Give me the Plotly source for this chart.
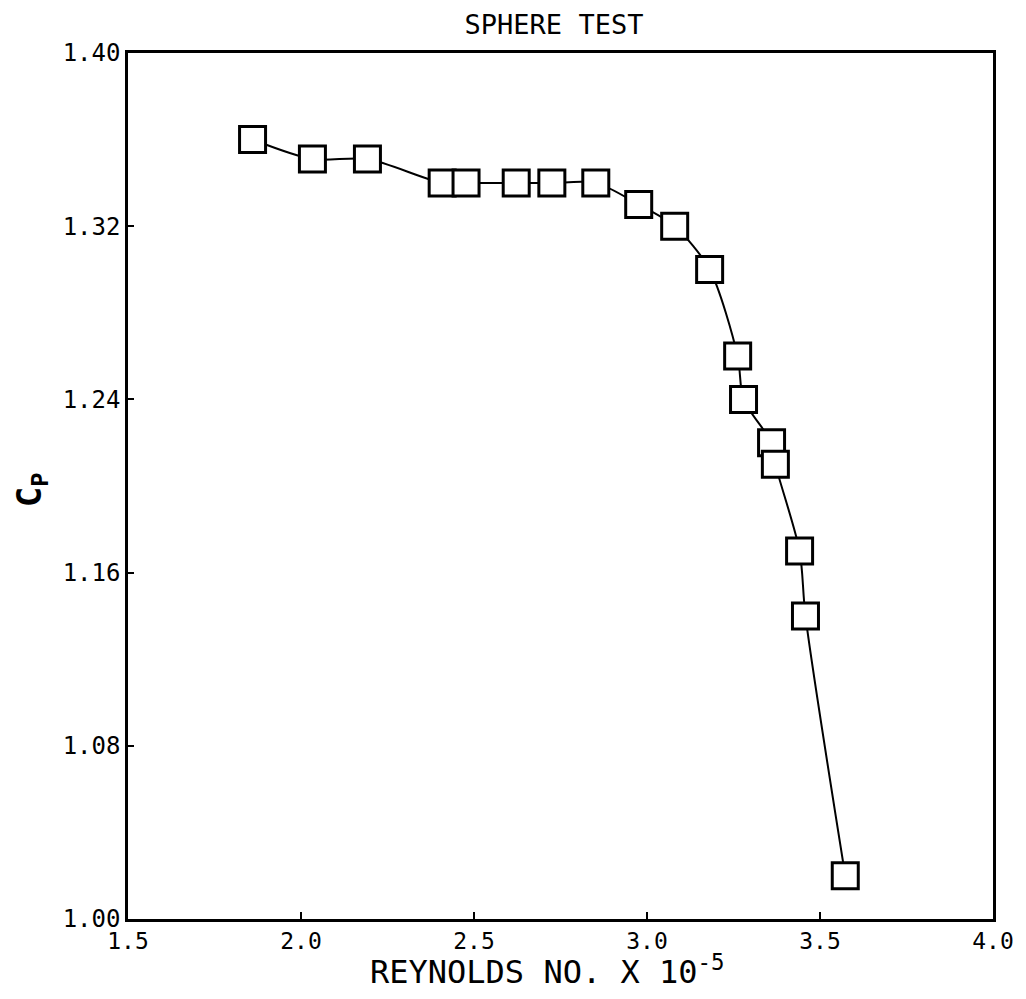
import plotly.graph_objects as go

reynolds = [1.860, 2.033, 2.192, 2.408, 2.477, 2.622, 2.725, 2.852, 2.976,
            3.080, 3.181, 3.262, 3.279, 3.360, 3.371, 3.441, 3.458, 3.573]
cp = [1.360, 1.351, 1.351, 1.340, 1.340, 1.340, 1.340, 1.340, 1.330,
      1.320, 1.300, 1.260, 1.240, 1.220, 1.210, 1.170, 1.140, 1.020]

x_ticks = [1.5, 2.0, 2.5, 3.0, 3.5, 4.0]
x_ticklabels = ["1.5", "2.0", "2.5", "3.0", "3.5", "4.0"]
y_ticks = [1.00, 1.08, 1.16, 1.24, 1.32, 1.40]
y_ticklabels = ["1.00", "1.08", "1.16", "1.24", "1.32", "1.40"]

FONT = "DejaVu Sans Mono"
W, H = 1018, 991
L, R, T, B = 120, 31, 45, 80
PW, PH = W - L - R, H - T - B

fig = go.Figure()
fig.add_trace(go.Scatter(
    x=reynolds, y=cp, mode="lines+markers",
    line=dict(color="black", width=2, shape="spline", smoothing=0.8),
    marker=dict(symbol="square", size=26, color="white",
                line=dict(color="black", width=3)),
    showlegend=False, cliponaxis=False,
))

fig.update_layout(
    width=W, height=H,
    paper_bgcolor="white", plot_bgcolor="white",
    margin=dict(l=L, r=R, t=T, b=B),
    font=dict(family=FONT, color="black"),
    title=dict(text="SPHERE TEST", x=(554 - 8) / W, xanchor="center",
               y=1 - 17 / H, yanchor="middle", yref="container",
               font=dict(family=FONT, size=27, color="black")),
)

fig.update_xaxes(
    range=[1.5, 4.0], tickvals=x_ticks, ticktext=x_ticklabels,
    ticks="inside", ticklen=7, tickwidth=2, tickcolor="black",
    showline=True, linewidth=2.5, linecolor="black", mirror=True,
    showgrid=False, zeroline=False,
    tickfont=dict(family=FONT, size=23, color="black"),
)
fig.update_yaxes(
    range=[1.00, 1.40], tickvals=y_ticks, ticktext=y_ticklabels,
    ticks="inside", ticklen=6, tickwidth=2, tickcolor="black",
    showline=True, linewidth=2.5, linecolor="black", mirror=True,
    showgrid=False, zeroline=False,
    tickfont=dict(family=FONT, size=24, color="black"),
)

fig.add_annotation(
    text="REYNOLDS NO. X 10<sup>-5</sup>", xref="paper", yref="paper",
    x=(546 - 126) / PW, y=-(970 - 919) / PH, xanchor="center", yanchor="middle",
    showarrow=False, font=dict(family=FONT, size=32, color="black"),
)
fig.add_annotation(
    text="<b>C<sub>P</sub></b>", xref="paper", yref="paper",
    x=-(126 - 30) / PW, y=(919 - 490) / PH, xanchor="center", yanchor="middle",
    textangle=-90, showarrow=False,
    font=dict(family=FONT, size=34, color="black"),
)

fig.write_html("out.html")
